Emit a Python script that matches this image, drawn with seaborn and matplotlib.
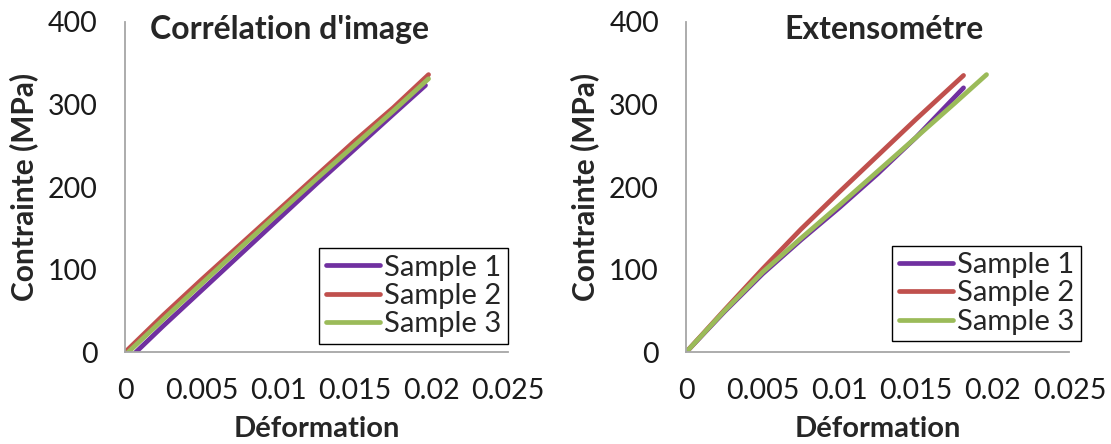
import pandas as pd
import matplotlib
matplotlib.use("Agg")
import matplotlib.pyplot as plt
import seaborn as sns

# Corrélation d'image (left panel)
dic_s1_x = [0.0007, 0.0025, 0.005, 0.0075, 0.01, 0.0125, 0.015, 0.0175, 0.0196]
dic_s1_y = [0, 32, 75, 118, 161, 204, 246, 288, 323]
dic_s2_x = [0, 0.0025, 0.005, 0.0075, 0.01, 0.0125, 0.015, 0.0175, 0.0198]
dic_s2_y = [0, 45, 88, 130, 172, 214, 256, 296, 336]
dic_s3_x = [0.0002, 0.0025, 0.005, 0.0075, 0.01, 0.0125, 0.015, 0.0175, 0.0198]
dic_s3_y = [0, 40, 83, 126, 168, 210, 251, 292, 331]

# Extensométre (right panel)
ext_s1_x = [0, 0.0025, 0.005, 0.0075, 0.01, 0.0125, 0.015, 0.0181]
ext_s1_y = [0, 49, 95, 136, 175, 216, 260, 320]
ext_s2_x = [0, 0.0025, 0.005, 0.0075, 0.01, 0.0125, 0.015, 0.0181]
ext_s2_y = [0, 51, 101, 149, 194, 238, 282, 335]
ext_s3_x = [0, 0.0025, 0.005, 0.0075, 0.01, 0.0125, 0.015, 0.0175, 0.0196]
ext_s3_y = [0, 50, 97, 138, 178, 219, 260, 301, 336]

samples = ["Sample 1", "Sample 2", "Sample 3"]
colors = ["#7030A0", "#C0504D", "#9BBB59"]
titles = ["Corrélation d'image", "Extensométre"]
xticks = [0, 0.005, 0.01, 0.015, 0.02, 0.025]
xtick_labels = ["0", "0.005", "0.01", "0.015", "0.02", "0.025"]
yticks = [0, 100, 200, 300, 400]


def make_df(series):
    rows = []
    for name, (xs, ys) in zip(samples, series):
        for x, y in zip(xs, ys):
            rows.append({"Déformation": x, "Contrainte": y, "Sample": name})
    return pd.DataFrame(rows)


dic_df = make_df([(dic_s1_x, dic_s1_y), (dic_s2_x, dic_s2_y), (dic_s3_x, dic_s3_y)])
ext_df = make_df([(ext_s1_x, ext_s1_y), (ext_s2_x, ext_s2_y), (ext_s3_x, ext_s3_y)])

sns.set_style("white")
plt.rcParams["font.family"] = ["Lato", "DejaVu Sans"]

fig = plt.figure(figsize=(11.11, 4.44), dpi=100)
ax1 = fig.add_axes([0.1125, 0.2065, 0.345, 0.7446])
ax2 = fig.add_axes([0.6175, 0.2065, 0.345, 0.7446])

legend_pos = [(0.2874, 0.4408), (0.8031, 0.4466)]
title_x = [0.43, 0.517]

for i, (ax, df) in enumerate([(ax1, dic_df), (ax2, ext_df)]):
    sns.lineplot(data=df, x="Déformation", y="Contrainte", hue="Sample",
                 palette=colors, estimator=None, sort=False, linewidth=3.4,
                 solid_capstyle="round", ax=ax, legend=False)
    ax.set_xlim(0, 0.025)
    ax.set_ylim(0, 400)
    ax.set_xticks(xticks)
    ax.set_xticklabels(xtick_labels)
    ax.set_yticks(yticks)
    for side in ["top", "right"]:
        ax.spines[side].set_visible(False)
    for side in ["left", "bottom"]:
        ax.spines[side].set_color("#a6a6a6")
        ax.spines[side].set_linewidth(1.3)
    ax.tick_params(axis="both", direction="out", length=7.5, width=1.3,
                   color="#a6a6a6", labelsize=20.5, labelcolor="#1a1a1a")
    ax.tick_params(axis="y", pad=12)
    ax.tick_params(axis="x", pad=11)
    ax.set_xlabel("Déformation", fontsize=21, fontweight="bold")
    ax.set_ylabel("Contrainte (MPa)", fontsize=21.5, fontweight="bold")
    ax.xaxis.set_label_coords(0.5, -0.232)
    ax.xaxis.label.set_va("center")
    ax.yaxis.set_label_coords(-0.2635, 0.5)
    ax.yaxis.label.set_va("center")
    ax.text(title_x[i], 0.975, titles[i], transform=ax.transAxes, ha="center",
            va="center", fontsize=23, fontweight="bold")

    handles = [plt.Line2D([], [], color=c, linewidth=3.4, solid_capstyle="round")
               for c in colors]
    leg = ax.legend(handles, samples, loc="upper left",
                    bbox_to_anchor=legend_pos[i], bbox_transform=fig.transFigure,
                    fontsize=21, frameon=True, fancybox=False, framealpha=1,
                    edgecolor="black", handlelength=1.85, handletextpad=0.15,
                    labelspacing=0.08, borderpad=0.22, borderaxespad=0)
    leg.get_frame().set_linewidth(1.0)

fig.savefig("out.png", dpi=100)
